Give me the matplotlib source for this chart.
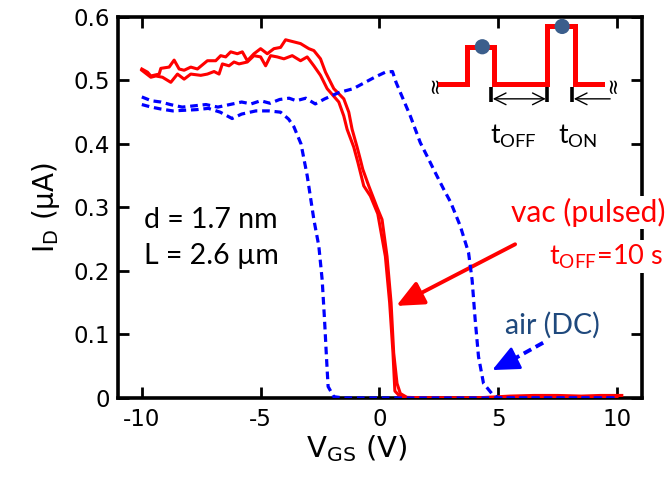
import matplotlib
matplotlib.use("Agg")
import matplotlib.pyplot as plt

plt.rcParams['axes.unicode_minus'] = False
plt.rcParams['font.family'] = ['DejaVu Sans']

# ---------------- data ----------------
red1_v = [-10.0, -9.76, -9.62, -9.27, -9.2, -8.85, -8.64, -8.43, -8.22, -7.94, -7.66, -7.24,
          -6.89, -6.68, -6.47, -6.26, -5.98, -5.77, -5.56, -5.28, -5.0, -4.72, -4.44, -4.16,
          -3.95, -3.32, -2.97, -2.76, -2.48, -2.27, -1.92, -1.5, -1.29, -1.15, -0.94, -0.8,
          -0.7, -0.45, -0.1, 0.11, 0.32, 0.49, 0.6, 0.74, 0.88, 1.16, 2.0, 4.0, 5.5, 6.5,
          7.5, 8.5, 9.3, 10.2]
red1_i = [0.518, 0.513, 0.507, 0.510, 0.519, 0.521, 0.532, 0.518, 0.516, 0.521, 0.518, 0.531,
          0.531, 0.539, 0.537, 0.545, 0.542, 0.545, 0.531, 0.542, 0.550, 0.542, 0.550, 0.552,
          0.564, 0.558, 0.550, 0.547, 0.534, 0.513, 0.487, 0.471, 0.450, 0.423, 0.395, 0.375,
          0.360, 0.334, 0.300, 0.281, 0.223, 0.150, 0.071, 0.023, 0.007, 0.001, 0.0, 0.0, 0.003,
          0.004, 0.004, 0.003, 0.004, 0.004]

red2_v = [-10.0, -9.62, -9.41, -9.13, -8.78, -8.5, -8.22, -7.94, -7.52, -7.24, -6.96, -6.75,
          -6.61, -6.33, -6.12, -5.91, -5.56, -5.28, -5.0, -4.79, -4.58, -4.3, -4.02, -3.67,
          -3.32, -3.04, -2.76, -2.48, -2.2, -1.71, -1.5, -1.36, -1.08, -0.9, -0.66, -0.38,
          -0.07, 0.25, 0.43, 0.57, 0.65, 0.8, 1.0, 3.0, 5.0, 10.0]
red2_i = [0.516, 0.505, 0.507, 0.505, 0.497, 0.510, 0.502, 0.510, 0.508, 0.510, 0.514, 0.510,
          0.526, 0.523, 0.529, 0.526, 0.529, 0.539, 0.537, 0.523, 0.539, 0.537, 0.534, 0.539,
          0.531, 0.537, 0.523, 0.508, 0.487, 0.466, 0.444, 0.423, 0.395, 0.370, 0.334, 0.318,
          0.290, 0.223, 0.150, 0.071, 0.011, 0.005, 0.0, 0.0, 0.0, 0.002]

blueA_v = [-10.0, -9.6, -9.2, -8.8, -8.3, -7.8, -7.3, -6.8, -6.3, -5.8, -5.4, -5.0, -4.6,
           -4.2, -3.8, -3.5, -3.1, -2.7, -2.3, -1.7, -1.1, -0.6, -0.2, 0.25, 0.55, 0.7, 0.88,
           1.3, 1.72, 2.07, 2.28, 2.7, 3.0, 3.4, 3.75, 3.9, 4.03, 4.17, 4.38, 4.73, 5.0, 7.5, 10.0]
blueA_i = [0.474, 0.468, 0.466, 0.462, 0.458, 0.460, 0.462, 0.458, 0.462, 0.466, 0.463, 0.468,
           0.464, 0.470, 0.472, 0.468, 0.472, 0.463, 0.471, 0.481, 0.487, 0.497, 0.505, 0.513,
           0.514, 0.497, 0.481, 0.444, 0.402, 0.376, 0.360, 0.329, 0.308, 0.271, 0.229, 0.186,
           0.123, 0.065, 0.023, 0.007, 0.0, 0.0, 0.0]

blueB_v = [-10.0, -9.6, -9.2, -8.7, -8.2, -7.7, -7.2, -6.7, -6.2, -5.8, -5.2, -4.66, -4.16,
           -3.82, -3.6, -3.3, -3.04, -2.76, -2.55, -2.41, -2.31, -2.23, -2.16, -1.92, -1.5,
           2.0, 6.0, 10.0]
blueB_i = [0.462, 0.458, 0.455, 0.452, 0.453, 0.454, 0.456, 0.450, 0.440, 0.447, 0.452, 0.452,
           0.450, 0.439, 0.427, 0.400, 0.350, 0.281, 0.239, 0.186, 0.123, 0.065, 0.018, 0.002,
           0.0, 0.0, 0.0, 0.0]

x_ticks = [-10, -5, 0, 5, 10]
x_ticklabels = ['-10', '-5', '0', '5', '10']
y_ticks = [0, 0.1, 0.2, 0.3, 0.4, 0.5, 0.6]
y_ticklabels = ['0', '0.1', '0.2', '0.3', '0.4', '0.5', '0.6']

# inset pulse waveform (schematic, in data units of the axes)
pulse_v = [2.56, 3.70, 3.70, 4.83, 4.83, 7.06, 7.06, 8.24, 8.24, 9.37]
pulse_i = [0.494, 0.494, 0.553, 0.553, 0.494, 0.494, 0.585, 0.585, 0.494, 0.494]
dot_v = [4.33, 7.69]
dot_i = [0.553, 0.585]

RED = '#FF0000'
BLUE = '#0000FF'
DARKBLUE = '#1F497D'
ANNOT_FONT = ['Lato', 'DejaVu Sans']

fig = plt.figure(figsize=(6.67, 4.83), dpi=100)
ax = fig.add_axes([0.177, 0.176, 0.7855, 0.789])

ax.plot(red1_v, red1_i, color=RED, lw=2.2, zorder=3)
ax.plot(red2_v, red2_i, color=RED, lw=2.2, zorder=3)
ax.plot(blueA_v, blueA_i, color=BLUE, lw=2.3, dashes=(2.4, 1.5), zorder=4)
ax.plot(blueB_v, blueB_i, color=BLUE, lw=2.3, dashes=(2.4, 1.5), zorder=4)

ax.set_xlim(-11, 11.05)
ax.set_ylim(0, 0.6)
ax.set_xticks(x_ticks)
ax.set_xticklabels(x_ticklabels)
ax.set_yticks(y_ticks)
ax.set_yticklabels(y_ticklabels)
ax.tick_params(direction='in', top=True, right=True, length=8, width=2,
               labelsize=16.5, pad=7)
ax.tick_params(axis='y', pad=6)
for s in ax.spines.values():
    s.set_linewidth(2.6)

ax.set_xlabel(r'V$_{\mathregular{GS}}$ (V)', fontsize=21, labelpad=2)
ax.xaxis.label.set_x(0.456)
ax.set_ylabel(r'I$_{\mathregular{D}}$ ($\mathregular{\mu}$A)', fontsize=20, labelpad=8)

# text annotations
ax.text(-9.92, 0.281, 'd = 1.7 nm', fontsize=20.5, family=ANNOT_FONT, va='center', ha='left')
ax.text(-9.92, 0.223, 'L = 2.6 µm', fontsize=20.5, family=ANNOT_FONT, va='center', ha='left')
white_box = dict(facecolor='white', edgecolor='none', pad=1.5)
ax.text(5.55, 0.292, 'vac (pulsed)', fontsize=21.5, family=ANNOT_FONT, color=RED,
        va='center', ha='left', clip_on=False, bbox=white_box, zorder=10)
ax.text(7.15, 0.223, r't$_{\mathregular{OFF}}$=10 s', fontsize=19.5, family=ANNOT_FONT,
        color=RED, va='center', ha='left', clip_on=False, bbox=white_box, zorder=10)
ax.text(5.3, 0.115, 'air (DC)', fontsize=20.5, family=ANNOT_FONT, color=DARKBLUE,
        va='center', ha='left')

# red arrow
ax.annotate('', xy=(0.71, 0.145), xytext=(5.71, 0.242),
            arrowprops=dict(arrowstyle='-|>,head_length=1.1,head_width=0.5',
                            color=RED, lw=2.8, shrinkA=0, shrinkB=0, mutation_scale=15))
# blue dashed arrow
ax.plot([6.89, 5.3], [0.087, 0.054], color=BLUE, lw=2.8, dashes=(2.2, 1.3))
ax.annotate('', xy=(4.75, 0.044), xytext=(5.5, 0.058),
            arrowprops=dict(arrowstyle='-|>,head_length=1.1,head_width=0.5',
                            color=BLUE, lw=2.0, shrinkA=0, shrinkB=0, mutation_scale=15))

# inset pulse schematic
ax.plot(pulse_v, pulse_i, color=RED, lw=3.6, solid_joinstyle='miter', zorder=5)
ax.scatter(dot_v, dot_i, s=120, color='#3B5E8C', zorder=6, edgecolors='none')
ax.text(2.31, 0.494, '≈', rotation=90, fontsize=15, ha='center', va='center')
ax.text(9.83, 0.494, '≈', rotation=90, fontsize=15, ha='center', va='center')

for xv in [4.71, 7.06, 8.11]:
    ax.plot([xv, xv], [0.466, 0.490], color='black', lw=2.6, solid_capstyle='butt')
ax.annotate('', xy=(7.0, 0.471), xytext=(4.77, 0.471),
            arrowprops=dict(arrowstyle='<->,head_length=0.6,head_width=0.3', color='black',
                            lw=1.0, shrinkA=0, shrinkB=0, mutation_scale=14))
ax.annotate('', xy=(8.18, 0.471), xytext=(9.71, 0.471),
            arrowprops=dict(arrowstyle='->,head_length=0.6,head_width=0.3', color='black',
                            lw=1.0, shrinkA=0, shrinkB=0, mutation_scale=14))
ax.text(5.63, 0.412, r't$_{\mathregular{OFF}}$', fontsize=19, family=ANNOT_FONT,
        ha='center', va='center')
ax.text(8.32, 0.412, r't$_{\mathregular{ON}}$', fontsize=19, family=ANNOT_FONT,
        ha='center', va='center')

fig.savefig('out.png', dpi=100)
